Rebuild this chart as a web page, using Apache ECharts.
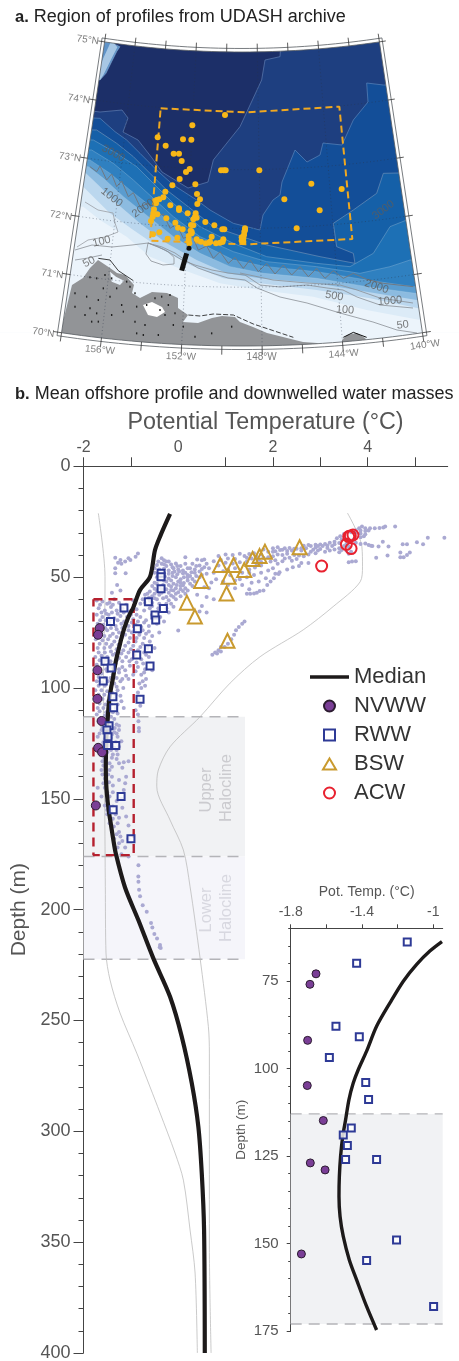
<!DOCTYPE html>
<html>
<head>
<meta charset="utf-8">
<title>UDASH offshore profile</title>
<script src="https://cdn.jsdelivr.net/npm/echarts@6/dist/echarts.min.js"></script>
<style>
  html, body { margin: 0; background: #fff; }
  #chart { width: 459px; height: 1361px; }
</style>
</head>
<body>
<div id="chart"></div>
<script>
// ---- profile data: [potential temperature, depth] ----
const medianUpper = [[-0.172,21.5],[-0.384,31.7],[-0.49,37.8],[-0.595,49.8],[-0.806,55.8]];
const medianMiddle = [[-0.951,63.8],[-1.019,66.5],[-1.093,70.3],[-1.168,75.1],[-1.243,81.3],[-1.318,88],[-1.374,95.1],[-1.421,100.4],[-1.449,104.2],[-1.473,108.9],[-1.492,114.7],[-1.508,119.4],[-1.52,125.1],[-1.527,130.9],[-1.529,136.6],[-1.523,142.3],[-1.505,148],[-1.471,154.7],[-1.43,160.4],[-1.374,168],[-1.318,174.7]];
const medianDeep = [[-1.123,190],[-0.842,204.7],[-0.525,222],[-0.172,239.3],[0.075,257.3],[0.286,278.3],[0.425,297.9],[0.497,318.9],[0.546,344.5],[0.561,400]];
const coldEnvelope = [[-1.687,21.2],[-1.546,49.8],[-1.546,55.8],[-1.582,100.9],[-1.552,153.6],[-1.539,189.6],[-1.525,219.6],[-1.44,231.7],[-1.229,246.6],[-0.876,264.7],[-0.595,280],[-0.384,291.7],[-0.067,309.8],[0.109,322],[0.25,344.5],[0.356,363.9],[0.404,400]];
const warmEnvelope = [[3.574,21.1],[3.878,36.3],[3.891,45.3],[3.842,52.1],[3.271,63.3],[2.638,73.8],[1.729,85.9],[1.095,97.8],[0.461,113],[-0.172,126.5],[-0.42,137],[-0.453,144.5],[-0.172,159.6],[0.109,173.1],[0.25,189.6],[0.461,221.8],[0.637,252.8],[0.658,264.7],[0.658,351.7],[0.694,400]];

const nvww = [[-1.658,73],[-1.692,76],[-1.705,92],[-1.707,104.9],[-1.617,114.9],[-1.69,127],[-1.607,129],[-1.74,153]];
const rwwCold = [[-1.146,63.9],[-1.43,70],[-1.546,88],[-1.415,91],[-1.583,96.9],[-1.379,104],[-1.363,108.9],[-1.46,117],[-1.505,119],[-1.482,122],[-1.492,126],[-1.318,126],[-1.206,149],[-1.374,154.9],[-0.998,168]];
const rwwWarm = [[-0.362,48.3],[-0.362,49.8],[-0.362,55.2],[-0.63,61.1],[-0.313,64.2],[-0.49,67.1],[-0.475,69.3],[-0.863,73.3],[-0.63,82.3],[-0.876,85.1],[-0.595,90.1],[-0.806,105.1]];
const bsw = [[0.887,44.5],[1.169,44.5],[1.394,46.8],[1.57,41.8],[1.718,40.5],[1.831,38.5],[2.563,36.5],[1.063,49.8],[0.486,51.7],[1.021,57.4],[0.183,61.5],[0.352,67.8],[1.04,78.7]];
const acw = [[3.634,31.4],[3.69,31],[3.6,31.7],[3.55,35.2],[3.65,37.1],[3.028,45]];

// profile cloud
const cloudTail = [[5.62,32.2],[5.27,32.2],[5.04,34.3],[5.17,35.2],[4.83,35.2],[4.74,35.2],[4.58,27.2],[4.37,27.2],[4.44,36.2],[4.32,34],[4.23,36.2],[4.07,35.8],[4.18,41.2],[4.42,40.2],[4.69,41],[4.76,41],[4.83,40],[4.89,38.9],[4.69,38.9],[3.67,43],[3.6,43.3],[3.75,42.8]];
const cloudTop = [[3.88,27.2],[3.82,28],[3.95,28],[4.05,28],[4.15,28],[4.25,27.8],[4.33,27.6],[3.75,28.8],[3.85,29],[3.95,29.2],[4.02,29],[3.65,29.8],[3.75,30],[3.85,30.3],[3.95,30.6],[3.5,30.5],[3.42,31.5],[3.35,32.5],[3.45,33],[3.55,33],[3.7,33],[3.85,32],[3.92,31.6],[3.3,34],[3.4,34.6],[3.55,35],[3.75,34.5],[3.85,35],[3.95,34.8],[4.02,35.5],[4.1,36],[3.2,34.5],[3.1,35],[3,35.3],[2.9,35.4]];
const cloudBand = [[1.8,37.5],[1.9,38.5],[2,37],[2.1,36.5],[2.15,37.8],[2.25,37],[2.35,36.8],[2.4,38],[2.5,37.2],[2.6,38],[2.7,37],[2.8,36],[2.85,37.6],[2.9,36.6],[2.95,38],[3,37.3],[3.05,36],[2.75,35.5],[2.65,35.8],[2.8,38.5],[2.9,39.2],[2.75,39.8],[2.65,40.6],[2.55,40.2],[2.45,40],[2.3,39.5],[2.2,40],[2.1,39.8],[2,40.6],[1.9,41],[1.8,41.3],[1.7,42],[1.55,41.6],[1.4,40.5],[1.3,39.5],[1.15,40],[1,39.8],[0.85,40.5],[1.5,39.6],[1.6,39.2],[1.45,43],[1.3,43.3],[1.15,43.8],[1,43.5],[2.4,42.6],[2.2,42.8],[2.6,43.6],[2.1,44],[3.1,38.5],[3.2,38],[3.3,37.5],[3.4,37],[3.45,37.8],[2.05,38.3],[2.3,38.2]];
const cloudBandFill = [[2.95,36],[2.6,37],[2.45,37.2],[2.2,37.6],[2,38.6],[1.75,39.8],[1.65,40.8],[1.45,41.3],[1.2,41.8],[1.05,41.6],[0.9,42.3],[0.75,42.8],[0.85,44.8],[1.2,46],[1.05,46.5],[0.95,47.3],[1.35,48],[1.5,48],[1.1,49.2],[1.2,51.5],[0.95,52],[1.35,53.5],[2.5,41.8],[2.35,41.2],[2.25,41.6],[2.05,42.4],[1.95,43],[1.75,43.2],[1.65,43.7],[3.15,35.7],[3.25,36],[3.3,35.2],[3.5,36],[3.6,36.2],[3.15,36.8],[3.55,38],[3.65,38.5],[3.6,39.5],[3.4,38.8]];
const cloudLowerWarm = [[1.45,57.5],[1.52,57.5],[1.6,57.4],[1.66,57],[1.72,56.3],[1.8,56],[1.5,55.5],[1.88,53.5],[1.95,52],[2.02,50.5],[2.12,48.6],[2.14,47.8],[2.05,48.5],[2.3,46.6],[2.42,45.5],[2.55,45],[2.75,43.6],[1.3,51],[1.45,50],[1.6,49],[1.75,48],[1.9,47],[2,46],[1.55,52.5],[1.7,52],[1.85,50.5],[1.2,55],[1.05,53.5],[0.8,51],[0.65,55],[0.75,60],[0.5,63],[0.45,65.5],[0.6,66],[1.62,45.6],[1.75,44.8],[1.5,46.5]];
const cloudCentral = [[-0.35,41.5],[-0.3,42.4],[-0.25,43],[0.15,41],[0.4,42],[0.5,42.4],[0.55,42],[-0.45,44.5],[-0.35,44],[-0.25,45],[-0.15,44.3],[-0.05,43.8],[0.05,45],[0.3,44],[0.45,44.8],[0.6,44],[-0.5,46],[-0.4,46.6],[-0.3,46.2],[-0.2,47],[-0.1,46],[0,46.5],[0.1,47],[0.25,46],[0.35,46.6],[0.5,46.3],[0.65,46],[-0.5,48],[-0.2,48.5],[-0.12,48],[-0.02,48.7],[0.1,48.2],[0.2,49],[0.35,48],[0.6,48.5],[0.75,48],[-0.45,50],[-0.2,50.6],[-0.05,50],[0.05,51],[0.2,50],[0.3,50.8],[0.45,50],[-0.5,52.5],[-0.25,52],[-0.1,53],[0,52],[0.12,52.6],[0.25,53],[0.7,52.4],[-0.55,54],[-0.4,54.6],[-0.15,54.2],[-0.05,55],[0.05,54],[0.15,55],[0.3,54],[0.55,54.6],[-0.6,56.5],[-0.45,56],[-0.2,57],[-0.1,56],[0,56.8],[0.1,56.2],[-0.7,58],[-0.55,58.6],[-0.4,58],[-0.25,59],[-0.15,58.3],[0.05,58.6],[0.4,58],[0.6,59],[-0.75,60],[-0.6,60.6],[-0.45,60],[-0.2,60.4],[-0.05,60],[-0.1,63.4],[-0.25,64],[-0.2,66]];
const cloudCentralFill = [[-0.42,43],[-0.3,44.2],[-0.2,43],[-0.12,45.5],[-0.02,45],[0.15,44],[0.2,46],[0.38,45],[0.55,45.5],[-0.42,47.8],[-0.3,48],[-0.08,47.5],[0.02,47.5],[0.15,48],[0.28,47.8],[0.45,47.5],[-0.38,49.5],[-0.28,49.8],[-0.12,49.5],[0.12,50],[0.25,49.5],[0.38,49.5],[0.5,49],[-0.42,51],[-0.3,51.5],[-0.15,51.5],[0.05,52.5],[0.2,51.5],[0.35,52],[-0.45,53],[-0.32,53.5],[-0.2,53.5],[-0.03,53.5],[0.1,53.7],[-0.5,55.2],[-0.35,55.5],[-0.25,55.5],[-0.15,55.8],[0.05,55.5],[0.2,56],[-0.65,57.5],[-0.5,57.5],[-0.35,57],[-0.05,57.5],[0.15,57.5],[-0.62,59.3],[-0.5,59.5],[-0.32,59.5],[-0.1,59],[-0.7,61.5],[-0.55,61.5],[-0.4,62],[-0.25,62],[-0.15,62],[-0.55,63],[-0.42,64],[-0.45,66],[-0.38,68],[-0.3,70]];
const cloudLeftStreak = [[-1.33,41.2],[-1.22,42.3],[-1.12,43],[-1.01,42.3],[-0.9,40.8],[-0.85,39.3],[-1.33,46],[-1.33,48.2],[-1.29,53.5],[-1.22,56],[-1.11,48.2],[-1.4,57],[-1.2,44],[-1.27,43.5],[-1.05,41.5]];
const cloudColdUpper = [[-1.72,60.5],[-1.6,61],[-1.5,62],[-1.35,60],[-1.25,61.5],[-1.1,62.5],[-0.95,60.5],[-0.8,62],[-1.68,64],[-1.55,65],[-1.42,63.5],[-1.3,65],[-1.18,64],[-1.02,65.5],[-0.88,64.5],[-0.72,65],[-0.6,64],[-1.72,67],[-1.6,68],[-1.47,67],[-1.35,68.5],[-1.22,67.5],[-1.08,68],[-0.95,69],[-0.8,68],[-0.68,69.5],[-0.55,67],[-1.7,71],[-1.58,71.5],[-1.46,70.5],[-1.32,72],[-1.2,71],[-1.05,72],[-0.9,71.5],[-0.78,72.5],[-0.62,72],[-0.45,71],[-1.72,74],[-1.62,75],[-1.5,74],[-1.38,75.5],[-1.25,75],[-1.12,76],[-0.98,75],[-0.82,76],[-0.68,75.5],[-0.55,76.5],[-0.4,75],[-1.74,78],[-1.6,78.5],[-1.48,78],[-1.35,79],[-1.22,78.5],[-1.05,79.5],[-0.9,79],[-0.75,80],[-0.6,79],[-1.7,82],[-1.56,82],[-1.44,81.5],[-1.3,82.5],[-1.16,83],[-1,82.5],[-0.85,83],[-0.72,84],[-0.5,82],[-1.75,86],[-1.62,85.5],[-1.5,86],[-1.38,85],[-1.25,86.5],[-1.1,86],[-0.98,87],[-0.78,87],[-0.62,86],[-1.72,89.5],[-1.58,89],[-1.45,90],[-1.32,89],[-1.18,90.5],[-1.02,90],[-0.85,90.5],[-0.7,91.5],[-0.55,92]];
const cloudColdLower = [[-1.74,93],[-1.62,93.5],[-1.5,92.5],[-1.38,94],[-1.25,93],[-1.1,94.5],[-0.95,94],[-0.78,94],[-0.68,96],[-1.72,97],[-1.6,97.5],[-1.48,97],[-1.35,98],[-1.22,97],[-0.82,98],[-0.7,99],[-1.75,101],[-1.62,101],[-1.5,101.5],[-1.4,102],[-1.28,101],[-0.85,102],[-1.72,105],[-1.6,105],[-1.48,106],[-1.35,105],[-1.2,106],[-0.83,105],[-1.7,109],[-1.58,109],[-1.45,109.5],[-1.32,109],[-1.15,109],[-0.8,108],[-0.9,110],[-1.72,112],[-1.55,112.5],[-1.42,113],[-0.85,112],[-0.84,115],[-0.83,118],[-0.83,119.5],[-1.68,115],[-1.55,116],[-1.42,116],[-1.3,116.5],[-1.62,119],[-1.48,119.5],[-1.35,120],[-1.25,119],[-1.7,122],[-1.55,123],[-1.42,122.5],[-1.28,122],[-1.2,124],[-1.62,126],[-1.48,126],[-1.35,127],[-1.25,126.5],[-1.65,129.5],[-1.5,129],[-1.38,130],[-1.28,130],[-1.05,133],[-1.15,133.5],[-1.25,134],[-1.6,133],[-1.45,134],[-1.62,137],[-1.45,137],[-1.18,136],[-1.1,140],[-1.12,143],[-1.55,141],[-1.4,140],[-1.25,141.5],[-1.7,145],[-1.55,145],[-1.38,144],[-1.15,146],[-1.2,150],[-1.62,149],[-1.45,149],[-1.3,151],[-1.55,153],[-1.38,153.5],[-1.18,154],[-1.5,157],[-1.32,157],[-1.1,158],[-1.45,161],[-1.28,161],[-1.05,162],[-1.4,164.5],[-1.25,165],[-1.05,168],[-1.35,168],[-1.18,169],[-1.28,172],[-1.12,172],[-1.2,175],[-1.05,176]];
const cloudColdFill = [[-1.65,62.5],[-1.45,61.5],[-1.38,62.5],[-1.62,66],[-1.52,66.5],[-1.4,66],[-1.28,66.5],[-1.15,66],[-1,67],[-0.88,67],[-1.65,69.5],[-1.53,69.5],[-1.42,69],[-1.28,69.5],[-1.14,70],[-0.98,70.5],[-0.85,70],[-0.72,70.5],[-1.66,73],[-1.54,73],[-1.42,73],[-1.3,73.5],[-1.18,73],[-1.05,74],[-0.92,74],[-0.75,74],[-0.62,74.5],[-1.68,76.5],[-1.56,76.5],[-1.44,76.5],[-1.3,77],[-1.18,77],[-1.02,77.5],[-0.88,77.5],[-0.72,77.5],[-1.66,80],[-1.52,80],[-1.4,80.5],[-1.26,80.5],[-1.12,81],[-0.95,81],[-0.8,81.5],[-0.65,82],[-1.68,84],[-1.55,84],[-1.42,83.5],[-1.32,84.5],[-1.2,84.5],[-1.05,84],[-0.92,85],[-0.68,85],[-1.66,87.5],[-1.54,87.5],[-1.43,88],[-1.3,87.5],[-1.18,88],[-1.03,88],[-0.88,88.5],[-0.74,89],[-1.66,91.5],[-1.52,91.5],[-1.38,91],[-1.25,91.5],[-1.12,92],[-0.9,92.5],[-0.72,93],[-1.68,95],[-1.55,95.5],[-1.43,95.5],[-1.3,95.5],[-1.18,96],[-1.05,96],[-0.75,97],[-1.68,99],[-1.55,99],[-1.42,99.5],[-1.3,99.5],[-1.16,100],[-0.78,100],[-1.68,103],[-1.56,103],[-1.44,103.5],[-1.32,103],[-1.22,103.5],[-1.66,107],[-1.54,107.5],[-1.42,107.5],[-1.28,107.5],[-1.66,110.5],[-1.52,111],[-1.38,111],[-1.28,111.5],[-1.62,113.5],[-1.48,114],[-1.35,114],[-1.6,117.5],[-1.46,117.5],[-1.34,118],[-1.25,117],[-1.66,120.5],[-1.52,121],[-1.4,121],[-1.3,120.5],[-1.58,124.5],[-1.45,124.5],[-1.32,124.5],[-1.56,128],[-1.42,128],[-1.3,128],[-1.56,131.5],[-1.4,131.5],[-1.3,132],[-1.58,135],[-1.4,135.5],[-1.6,139],[-1.48,139],[-1.58,143],[-1.46,142.5],[-1.5,147],[-1.38,147],[-1.5,151],[-1.42,155.5],[-1.5,155],[-1.38,159],[-1.25,158.5],[-1.36,162.5],[-1.3,166],[-1.22,167],[-1.25,170]];
const cloudBottom = [[-0.84,180],[-0.842,185],[-0.84,187.4],[-0.827,191],[-0.806,194],[-0.75,198],[-0.665,201],[-0.574,206],[-0.546,208],[-0.504,211],[-0.447,213],[-0.384,216],[-0.37,217.3],[-0.39,217]];
const cloudStreak = [[0.72,85],[0.78,84],[0.85,83],[0.9,83.5],[0.98,81.5],[1.05,80],[1.12,78],[1.18,76],[1.22,74],[1.28,72.5],[1.35,71],[1.4,70],[0.9,81.5],[0.82,84.5],[0,74.1]];

const upperHalocline = [113, 176];
const lowerHalocline = [176, 222.4];
const insetHalocline = [113, 173];
const coldBox = [[-1.79,60],[-0.94,60],[-0.94,175.4],[-1.79,175.4],[-1.79,60]];

// ---- map data: map-plane coordinates of panel a ----
const dots = [[675,345],[577,376],[473,412],[549,418],[574,419],[497,437],[521,461],[537,461],[545,483],[558,516],[569,507],[539,537],[517,556],[586,553],[663,511],[671,511],[677,511],[778,511],[934,551],[1025,567],[853,598],[959,631],[890,685],[496,575],[591,582],[600,598],[592,612],[490,592],[478,598],[470,600],[468,610],[511,616],[537,625],[537,630],[462,628],[460,640],[472,643],[458,650],[563,640],[587,640],[585,650],[580,658],[590,653],[616,666],[643,676],[667,688],[673,688],[499,655],[453,663],[526,668],[534,683],[548,688],[478,697],[459,703],[503,716],[532,713],[573,675],[580,676],[572,692],[575,700],[566,708],[566,720],[568,730],[575,695],[590,718],[603,725],[617,730],[627,728],[635,710],[630,725],[648,730],[660,728],[670,718],[668,725],[735,685],[733,695],[732,705],[730,715],[730,725],[725,712],[725,722],[735,690]];
const studyBox = [[482,325],[740,337],[1018,320],[1057,717],[740,733],[450,722],[482,325]];
const mooringLine = [[560,760],[545,812]];
const mooringDot = [[567,745]];

const deep3800 = [[845,100],[840,170],[795,180],[785,240],[720,380],[640,480],[624,546],[564,564],[486,516],[456,474],[414,420],[369,396],[384,354],[366,330],[300,336],[250,330],[0,330],[0,1140],[1377,1140],[1377,100]];
const deep3600 = [[1377,255],[1150,255],[1100,249],[1104,306],[1060,360],[1026,435],[969,429],[960,465],[921,486],[885,450],[846,546],[840,585],[819,600],[789,645],[780,690],[700,670],[630,630],[590,600],[520,555],[470,510],[420,460],[380,420],[345,395],[300,355],[0,340],[0,1140],[1377,1140]];
const deep3400 = [[1377,515],[1150,520],[1130,580],[1060,630],[1000,670],[1010,740],[1060,760],[1065,790],[960,770],[800,735],[640,680],[590,640],[500,570],[450,520],[400,470],[350,430],[290,390],[0,385],[0,1140],[1377,1140]];
const deep3000 = [[1377,660],[1220,660],[1170,680],[1120,760],[1050,800],[950,790],[800,770],[700,730],[600,680],[520,610],[470,560],[410,500],[350,460],[280,420],[0,415],[0,1140],[1377,1140]];
const slope2500 = [[1377,780],[1230,780],[1170,800],[1080,820],[950,800],[800,785],[700,755],[600,710],[520,650],[460,595],[400,540],[340,490],[275,450],[0,445],[0,1140],[1377,1140]];
const slope2000 = [[1377,860],[1240,860],[1100,840],[950,815],[800,800],[700,780],[610,735],[530,685],[460,625],[390,570],[330,520],[270,480],[0,475],[0,1140],[1377,1140]];
const slope1000 = [[1377,880],[1245,880],[1100,860],[950,835],[790,820],[690,800],[600,760],[520,710],[445,650],[370,590],[310,535],[265,500],[0,495],[0,1140],[1377,1140]];
const slope500 = [[1377,900],[1250,900],[1100,875],[950,850],[780,835],[680,820],[590,780],[500,730],[420,670],[350,610],[295,555],[258,520],[0,515],[0,1140],[1377,1140]];
const slope200 = [[1377,925],[1255,925],[1110,895],[950,870],[780,850],[670,835],[570,795],[480,745],[400,690],[330,640],[280,590],[250,560],[0,555],[0,1140],[1377,1140]];
const shelf100 = [[1377,960],[1260,960],[1100,930],[940,890],[780,870],[660,850],[550,810],[450,770],[380,710],[300,660],[250,620],[0,615],[0,1140],[1377,1140]];
const cornerShallow = [[315,120],[360,140],[350,155],[335,185],[318,220],[300,240],[280,240]];
const cornerMid = [[335,120],[352,142],[340,165],[325,195],[310,225],[300,240],[280,240]];

const ridgedContour = [[270,500],[290,515],[300,498],[320,540],[335,522],[350,560],[365,543],[385,590],[400,578],[420,620],[445,610],[470,650],[490,642],[510,685],[530,672],[550,715],[575,705],[595,750],[620,738],[640,775],[660,755],[685,790],[705,772],[730,805],[750,780],[775,815],[800,790],[825,822],[850,795],[875,825],[900,800],[925,830],[950,805],[975,835],[1000,812],[1030,835],[1060,820],[1100,838],[1150,850],[1240,860]];
const contour100 = [[225,750],[276,735],[336,741],[396,735],[444,729],[486,741],[525,759],[564,786],[594,804],[636,819],[684,834],[735,840],[771,864],[840,891],[921,909],[1020,939],[1119,966],[1191,990],[1251,999]];
const contour500 = [[444,729],[495,750],[546,780],[585,795],[636,810],[684,819],[735,825],[780,855],[840,861],[921,855],[981,864],[1029,870],[1071,891],[1140,915],[1239,924]];
const contour1000 = [[720,819],[819,840],[921,849],[1020,855],[1071,870],[1140,894],[1239,909]];
const contourBay = [[444,729],[438,762],[453,783],[489,795],[522,792],[522,772],[504,755],[474,740],[444,729]];
const contourShelf = [[255,606],[294,630],[339,639],[345,669],[354,696],[315,711],[264,720],[231,741]];
const contour50 = [[225,780],[264,774],[306,765]];

const land = [[180,1002],[216,855],[249,834],[270,804],[294,780],[330,804],[351,819],[375,825],[402,855],[396,879],[420,894],[456,876],[501,879],[534,894],[534,924],[564,945],[549,966],[594,969],[636,954],[666,948],[705,951],[720,966],[759,981],[801,999],[849,1011],[909,1026],[951,1029],[990,1060],[180,1060]];
const landEast = [[1026,1020],[1041,1005],[1071,999],[1095,1014],[1110,1035],[1026,1035]];
const lake = [[429,915],[456,906],[486,921],[495,936],[471,951],[444,945]];
const inlet = [[330,815],[348,830],[372,842],[360,855],[335,845]];
const coastNorth = [[295,775],[330,780],[355,812],[400,842]];
const coastSouth = [[565,945],[600,948],[640,942],[700,945],[760,972],[820,992],[880,1012]];
const coastEast = [[1030,1012],[1060,997],[1100,1012]];
const landSpecks = [[270,832],[290,835],[315,825],[335,835],[350,865],[310,865],[225,880],[260,890],[295,900],[330,890],[380,845],[390,860],[405,880],[365,915],[410,920],[270,925],[290,940],[255,945],[295,965],[275,965],[225,920],[335,945],[370,935],[405,965],[435,975],[465,895],[485,890],[510,885],[505,915],[480,930],[410,1000],[430,1005],[475,1005],[440,915],[495,945],[525,940],[585,1010],[635,1000],[695,980],[550,980],[520,975]];

const meridians = [-156, -152, -148, -144];
const parallels = [71, 72, 73, 74];
const frameLons = [-158, -156, -154, -152, -150, -148, -146, -144, -142, -140];
const frameLats = [70, 71, 72, 73, 74, 75];

const latLabels = [[263,120,'75°N'],[237,297,'74°N'],[210,472,'73°N'],[183,647,'72°N'],[157,822,'71°N'],[130,998,'70°N']];
const lonLabels = [[300,1050,'156°W',-5],[543,1070,'152°W',-2],[785,1073,'148°W',0],[1031,1062,'144°W',4],[1275,1035,'140°W',8]];
const contourLabels = [[340,460,'3000',-28],[335,592,'1000',-38],[430,625,'2000',35],[305,725,'100',14],[267,786,'50',28],[1130,860,'2000',-18],[1003,888,'500',-10],[1170,903,'1000',4],[1035,930,'100',-4],[1208,975,'50',6],[1150,630,'3000',36]];

// conic projection of the map panel, units are those of the map axes
function project(lon, lat) {
  const r = 3699 - (lat - 70) * 176.4;
  const a = 0.935 * (lon + 149) * Math.PI / 180;
  return [726 + r * Math.sin(a), -2661 + r * Math.cos(a)];
}
function arcLat(lat, lon0, lon1) {
  const pts = [];
  for (let i = 0; i <= 36; i++) pts.push(project(lon0 + (lon1 - lon0) * i / 36, lat));
  return pts;
}
function arcLon(lon, lat0, lat1) {
  return [project(lon, lat0), project(lon, lat1)];
}

const mapLayers = [
  { t: 'polygon', pts: [[0,0],[1377,0],[1377,1140],[0,1140]], fill: '#1c2f68' },
  { t: 'polygon', pts: deep3800, fill: '#1e3f80', stroke: '#5f7db0', lw: 0.7 },
  { t: 'polygon', pts: deep3600, fill: '#134e98', stroke: '#5a85ba', lw: 0.7 },
  { t: 'polygon', pts: deep3400, fill: '#1560a8', stroke: '#6b8fb8', lw: 0.7 },
  { t: 'polygon', pts: deep3000, fill: '#1d70b5', stroke: '#6fa0c8', lw: 0.6 },
  { t: 'polygon', pts: slope2500, fill: '#2f80c0', stroke: '#7cacd2', lw: 0.5 },
  { t: 'polygon', pts: slope2000, fill: '#5a9ccf', stroke: '#8cb8da', lw: 0.4 },
  { t: 'polygon', pts: slope1000, fill: '#8cbbe0', stroke: '#a6cce6', lw: 0.4 },
  { t: 'polygon', pts: slope500, fill: '#bbd7ee' },
  { t: 'polygon', pts: slope200, fill: '#dcebf7' },
  { t: 'polygon', pts: shelf100, fill: '#ecf4fb' },
  { t: 'polygon', pts: cornerShallow, fill: '#5f93c8', stroke: '#8fb0d4', lw: 0.5 },
  { t: 'polygon', pts: cornerMid, fill: '#a7c7e4' },
  { t: 'polyline', pts: ridgedContour, stroke: '#6f7882', lw: 1 },
  { t: 'polyline', pts: contour100, stroke: '#8a8f96', lw: 0.8 },
  { t: 'polyline', pts: contour500, stroke: '#8a8f96', lw: 0.8 },
  { t: 'polyline', pts: contour1000, stroke: '#8a8f96', lw: 0.8 },
  { t: 'polyline', pts: contourBay, stroke: '#8a8f96', lw: 0.8 },
  { t: 'polyline', pts: contourShelf, stroke: '#9a9ea4', lw: 0.8 },
  { t: 'polyline', pts: contour50, stroke: '#8a8f96', lw: 0.8 },
  { t: 'polygon', pts: land, fill: '#929497' },
  { t: 'polygon', pts: landEast, fill: '#929497' },
  { t: 'polygon', pts: lake, fill: '#ffffff' },
  { t: 'polygon', pts: inlet, fill: '#ecf4fb' },
  { t: 'polyline', pts: coastNorth, stroke: '#111', lw: 0.8 },
  { t: 'polyline', pts: coastSouth, stroke: '#111', lw: 0.8, dash: [5, 2] },
  { t: 'polyline', pts: coastEast, stroke: '#111', lw: 1 }
];
meridians.forEach(function (lon) {
  mapLayers.push({ t: 'polyline', pts: arcLon(lon, 70, 75), stroke: 'rgba(40,50,70,0.6)', lw: 0.7, dash: [1, 2.5] });
});
parallels.forEach(function (lat) {
  mapLayers.push({ t: 'polyline', pts: arcLat(lat, -158, -140), stroke: 'rgba(40,50,70,0.6)', lw: 0.7, dash: [1, 2.5] });
});

// white mask round the map, then the double frame
const arc75 = arcLat(75, -158, -140);
const arc70 = arcLat(70, -158, -140);
const topLeft = arc75[0], topRight = arc75[36], botLeft = arc70[0], botRight = arc70[36];
mapLayers.push({ t: 'polygon', pts: arc75.concat([[1377, topRight[1]], [1377, -10], [-10, -10], [-10, topLeft[1]]]), fill: '#fff' });
mapLayers.push({ t: 'polygon', pts: arc70.concat([[1387, botRight[1]], [1387, 1148], [-10, 1148], [-10, botLeft[1]]]), fill: '#fff' });
mapLayers.push({ t: 'polygon', pts: [botLeft, topLeft, [-10, topLeft[1]], [-10, botLeft[1]]], fill: '#fff' });
mapLayers.push({ t: 'polygon', pts: [botRight, topRight, [1387, topRight[1]], [1387, botRight[1]]], fill: '#fff' });
const frameGrey = '#555a60';
[0, 1].forEach(function (i) {
  const lonA = i ? -158.2 : -158, lonB = i ? -139.8 : -140;
  const latA = i ? 69.94 : 70, latB = i ? 75.06 : 75;
  mapLayers.push({ t: 'polyline', pts: arcLat(latA, lonA, lonB), stroke: frameGrey, lw: 0.8 });
  mapLayers.push({ t: 'polyline', pts: arcLat(latB, lonA, lonB), stroke: frameGrey, lw: 0.8 });
  mapLayers.push({ t: 'polyline', pts: arcLon(lonA, latA, latB), stroke: frameGrey, lw: 0.8 });
  mapLayers.push({ t: 'polyline', pts: arcLon(lonB, latA, latB), stroke: frameGrey, lw: 0.8 });
});
frameLons.forEach(function (lon) {
  mapLayers.push({ t: 'polyline', pts: arcLon(lon, 69.85, 70), stroke: '#333', lw: 0.8 });
  mapLayers.push({ t: 'polyline', pts: arcLon(lon, 75, 75.14), stroke: '#333', lw: 0.8 });
});
frameLats.forEach(function (lat) {
  mapLayers.push({ t: 'polyline', pts: [project(-158.42, lat), project(-158, lat)], stroke: '#333', lw: 0.8 });
  mapLayers.push({ t: 'polyline', pts: [project(-140, lat), project(-139.58, lat)], stroke: '#333', lw: 0.8 });
});

const textGrey = '#555';
const cloud = [].concat(cloudTail, cloudTop, cloudBand, cloudBandFill, cloudLowerWarm, cloudCentral, cloudCentralFill, cloudLeftStreak, cloudColdUpper, cloudColdLower, cloudColdFill, cloudBottom, cloudStreak);
const medianFull = [].concat(medianUpper, medianMiddle, medianDeep);
const rwwAll = rwwCold.concat(rwwWarm);

const nvwwStyle = { color: '#7a3e96', borderColor: '#2c1c30', borderWidth: 1, opacity: 1 };
const rwwStyle = { color: 'rgba(255,255,255,0.8)', borderColor: '#2e3a96', borderWidth: 2, opacity: 1 };
const bswStyle = { color: 'rgba(255,255,255,0)', borderColor: '#c99a2e', borderWidth: 2, opacity: 1 };
const acwStyle = { color: 'rgba(255,255,255,0)', borderColor: '#e8212f', borderWidth: 2, opacity: 1 };

function mapText(list, size) {
  return {
    type: 'scatter', xAxisIndex: 0, yAxisIndex: 0, symbolSize: 0, z: 6, silent: true,
    data: list.map(function (d) {
      return {
        value: [d[0], d[1]],
        label: { show: true, position: 'inside', formatter: d[2], rotate: d[3] || 0, fontSize: size, color: '#5c5c5c', fontFamily: 'Liberation Sans' }
      };
    })
  };
}
function profileLine(data, x, y, color, width, z, extra) {
  return Object.assign({
    type: 'line', xAxisIndex: x, yAxisIndex: y, data: data, symbol: 'none', silent: true, z: z,
    lineStyle: { color: color, width: width }
  }, extra || {});
}
function markers(name, data, x, y, symbol, size, style) {
  return {
    name: name, type: 'scatter', xAxisIndex: x, yAxisIndex: y, data: data, symbol: symbol, symbolSize: size,
    itemStyle: style, z: 9, silent: true
  };
}
function band(x, y, range, right, fill) {
  return {
    type: 'line', xAxisIndex: x, yAxisIndex: y, data: [], silent: true, z: 1,
    markArea: { silent: true, itemStyle: { color: fill, opacity: 1 }, data: [[{ coord: [right[0], range[0]] }, { coord: [right[1], range[1]] }]] }
  };
}
function dashAt(depth, x, y, span) {
  return profileLine([[span[0], depth], [span[1], depth]], x, y, '#b4b4b8', 1.4, 3, { lineStyle: { color: '#b4b4b8', width: 1.4, type: [11, 7] } });
}
function haloText(x, y, text, fill) {
  return { type: 'text', x: x, y: y, rotation: Math.PI / 2, silent: true, z: 20,
    style: { text: text, fontSize: 16.5, fill: fill, align: 'center', verticalAlign: 'middle', fontFamily: 'Liberation Sans' } };
}

const mainSpan = [-2, 1.41];
const insetSpan = [-1.8, -0.947];
const axisColor = '#444';
const titleRich = {
  b: { fontWeight: 'bold', fontSize: 16.5, fontFamily: 'Liberation Sans', color: '#222' },
  n: { fontWeight: 'normal', fontSize: 18, fontFamily: 'Liberation Sans', color: '#222' }
};

const chart = echarts.init(document.getElementById('chart'), null, { renderer: 'canvas' });
chart.setOption({
  animation: false,
  backgroundColor: '#fff',
  textStyle: { fontFamily: 'Liberation Sans' },
  title: [
    { left: 15, top: 8, padding: 0, text: '{b|a.} {n|Region of profiles from UDASH archive}', textStyle: { rich: titleRich } },
    { left: 15, top: 385, padding: 0, text: '{b|b.} {n|Mean offshore profile and downwelled water masses}', textStyle: { rich: titleRich } }
  ],
  grid: [
    { left: 0, top: 0, width: 459, height: 380, outerBoundsMode: 'none' },
    { left: 83.5, top: 466.3, width: 364.2, height: 886.7, outerBoundsMode: 'none' },
    { left: 290.7, top: 928.3, width: 152, height: 402.7, outerBoundsMode: 'none' }
  ],
  xAxis: [
    { gridIndex: 0, type: 'value', min: 0, max: 1377, show: false },
    { gridIndex: 1, type: 'value', min: -2, max: 5.69, position: 'top',
      name: 'Potential Temperature (°C)', nameLocation: 'middle', nameGap: 32,
      nameTextStyle: { fontSize: 23.3, color: textGrey, fontFamily: 'Liberation Sans' },
      axisLine: { onZero: false, lineStyle: { color: axisColor, width: 1 } },
      axisTick: { show: true, length: 9, customValues: [-2, -1, 1, 2, 3, 4, 5], lineStyle: { color: axisColor } },
      axisLabel: { customValues: [-2, 0, 2, 4], fontSize: 16, color: textGrey, margin: 11 },
      splitLine: { show: false } },
    { gridIndex: 2, type: 'value', min: -1.8, max: -0.947, position: 'top',
      name: 'Pot. Temp. (°C)', nameLocation: 'middle', nameGap: 29,
      nameTextStyle: { fontSize: 14, color: textGrey, fontFamily: 'Liberation Sans' },
      axisLine: { onZero: false, lineStyle: { color: axisColor, width: 1 } },
      axisTick: { show: true, length: 4, customValues: [-1.8, -1.6, -1.4, -1.2, -1], lineStyle: { color: axisColor } },
      axisLabel: { customValues: [-1.8, -1.4, -1], fontSize: 14, color: textGrey, margin: 9 },
      splitLine: { show: false } }
  ],
  yAxis: [
    { gridIndex: 0, type: 'value', min: 0, max: 1140, inverse: true, show: false },
    { gridIndex: 1, type: 'value', min: 0, max: 400, interval: 50, inverse: true,
      name: 'Depth (m)', nameLocation: 'middle', nameGap: 47,
      nameTextStyle: { fontSize: 21, color: textGrey, fontFamily: 'Liberation Sans' },
      axisLine: { show: true, onZero: false, lineStyle: { color: axisColor, width: 1 } },
      axisTick: { show: true, length: 10, lineStyle: { color: axisColor } },
      minorTick: { show: true, splitNumber: 5, length: 5, lineStyle: { color: axisColor } },
      axisLabel: { fontSize: 18, color: textGrey, margin: 13 },
      splitLine: { show: false }, minorSplitLine: { show: false } },
    { gridIndex: 2, type: 'value', min: 60, max: 175, inverse: true, position: 'left',
      name: 'Depth (m)', nameLocation: 'middle', nameGap: 42,
      nameTextStyle: { fontSize: 13.5, color: textGrey, fontFamily: 'Liberation Sans' },
      axisLine: { show: true, onZero: false, lineStyle: { color: axisColor, width: 1 } },
      axisTick: { show: true, length: 4, customValues: [75, 100, 125, 150, 175], lineStyle: { color: axisColor } },
      axisLabel: { customValues: [75, 100, 125, 150, 175], fontSize: 15, color: textGrey, margin: 12 },
      splitLine: { show: false } },
    { gridIndex: 2, type: 'value', min: 60, max: 175, interval: 5, inverse: true, position: 'left',
      axisLine: { show: false, onZero: false },
      axisTick: { show: true, length: 2.5, lineStyle: { color: axisColor } },
      axisLabel: { show: false }, splitLine: { show: false } }
  ],
  legend: {
    left: 310, top: 666, padding: 0, orient: 'vertical', selectedMode: false, itemWidth: 39, itemHeight: 11, itemGap: 7,
    textStyle: { fontSize: 22, color: '#333', fontFamily: 'Liberation Sans' },
    data: [
      { name: 'Median', icon: 'path://M0 0H39V3.6H0Z', itemStyle: { color: '#1d1a1a', borderWidth: 0 } },
      { name: 'NVWW', icon: 'circle' },
      { name: 'RWW', icon: 'path://M0 0H10V10H0Z' },
      { name: 'BSW', icon: 'path://M6.5 0L13 11H0Z' },
      { name: 'ACW', icon: 'circle' }
    ]
  },
  graphic: [
    haloText(206, 790, 'Upper', '#cbcbcf'),
    haloText(226, 788, 'Halocline', '#cbcbcf'),
    haloText(206, 910, 'Lower', '#d8d8e0'),
    haloText(226, 908, 'Halocline', '#d8d8e0')
  ],
  series: [
    // panel a
    {
      type: 'custom', xAxisIndex: 0, yAxisIndex: 0, silent: true, clip: false, z: 1,
      data: mapLayers.map(function (l, i) { return [i]; }),
      encode: { x: 0, y: 0 },
      renderItem: function (params, api) {
        const l = mapLayers[params.dataIndex];
        return {
          type: l.t,
          shape: { points: l.pts.map(function (p) { return api.coord(p); }) },
          style: { fill: l.t === 'polygon' ? l.fill : null, stroke: l.stroke || null, lineWidth: l.lw || 0, lineDash: l.dash || null }
        };
      }
    },
    { type: 'scatter', xAxisIndex: 0, yAxisIndex: 0, data: landSpecks, symbol: 'rect', symbolSize: [1.4, 2], itemStyle: { color: '#222', opacity: 1 }, z: 2, silent: true },
    profileLine(studyBox, 0, 0, '#f0a820', 2, 3, { lineStyle: { color: '#f0a820', width: 2, type: [7, 4] } }),
    { type: 'scatter', xAxisIndex: 0, yAxisIndex: 0, data: dots, symbolSize: 6, itemStyle: { color: '#f8b717', opacity: 1 }, z: 4, silent: true },
    profileLine(mooringLine, 0, 0, '#111', 5, 5),
    { type: 'scatter', xAxisIndex: 0, yAxisIndex: 0, data: mooringDot, symbolSize: 5, itemStyle: { color: '#111', opacity: 1 }, z: 5, silent: true },
    mapText(latLabels.map(function (d) { return [d[0], d[1], d[2], -8]; }), 10),
    mapText(lonLabels, 10),
    mapText(contourLabels, 11),

    // panel b, main profile
    band(1, 1, upperHalocline, mainSpan, '#f1f2f4'),
    band(1, 1, lowerHalocline, mainSpan, '#f5f5fa'),
    dashAt(upperHalocline[0], 1, 1, mainSpan),
    dashAt(upperHalocline[1], 1, 1, mainSpan),
    dashAt(lowerHalocline[1], 1, 1, mainSpan),
    profileLine(coldEnvelope, 1, 1, '#bcbcbc', 0.8, 4, { smooth: 0.3 }),
    profileLine(warmEnvelope, 1, 1, '#bcbcbc', 0.8, 4, { smooth: 0.3 }),
    { type: 'scatter', xAxisIndex: 1, yAxisIndex: 1, data: cloud, symbolSize: 4, itemStyle: { color: '#aaa9d2', opacity: 1 }, z: 5, silent: true },
    profileLine(coldBox, 1, 1, '#b5202e', 2.4, 6, { lineStyle: { color: '#b5202e', width: 2.4, type: [9, 6] } }),
    profileLine(medianFull, 1, 1, '#1d1a1a', 4.2, 7, { smooth: 0.3, name: 'Median' }),
    markers('NVWW', nvww, 1, 1, 'circle', 9, nvwwStyle),
    markers('RWW', rwwAll, 1, 1, 'rect', 7, rwwStyle),
    markers('BSW', bsw, 1, 1, 'triangle', 14, bswStyle),
    markers('ACW', acw, 1, 1, 'circle', 11, acwStyle),

    // panel b, inset
    band(2, 2, insetHalocline, insetSpan, '#f1f2f4'),
    dashAt(insetHalocline[0], 2, 2, insetSpan),
    dashAt(insetHalocline[1], 2, 2, insetSpan),
    profileLine(medianMiddle, 2, 2, '#1d1a1a', 3.4, 7, { smooth: 0.3, clip: false }),
    markers('', nvww, 2, 2, 'circle', 8, nvwwStyle),
    markers('', rwwCold, 2, 2, 'rect', 7, rwwStyle)
  ]
});
</script>
</body>
</html>
